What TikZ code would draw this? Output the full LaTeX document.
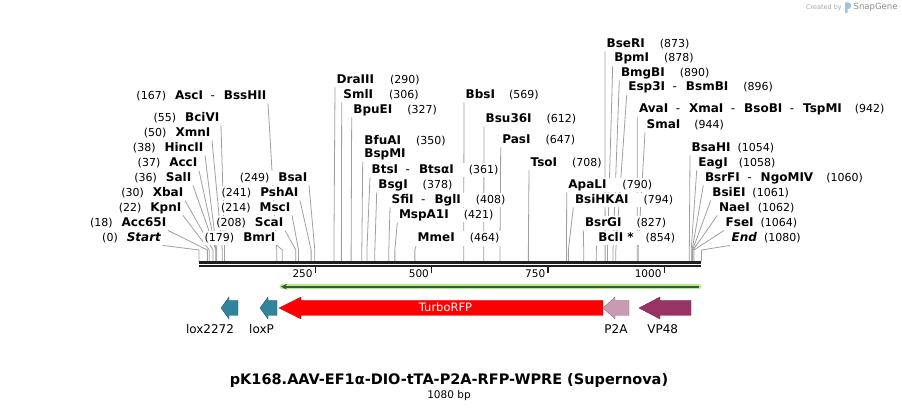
\documentclass[tikz,border=0pt]{standalone}
\usepackage{fontspec}
\setmainfont{DejaVu Sans}
\usetikzlibrary{arrows.meta,backgrounds}
\definecolor{cutgray}{RGB}{160,160,160}
\definecolor{loxteal}{RGB}{49,132,155}
\definecolor{rfpred}{RGB}{255,0,0}
\definecolor{ptwoa}{RGB}{201,154,179}
\definecolor{vpmag}{RGB}{153,51,102}
\definecolor{orfhalo}{RGB}{180,238,140}
\definecolor{orfline}{RGB}{52,92,52}
\definecolor{logoblue}{RGB}{160,196,224}
\newcommand{\orr}{\hspace{7.5pt}{\mdseries-}\hspace{9pt}}
\newcommand{\bpx}[1]{199+0.4652*#1}
\newcommand{\enzfont}{\fontsize{12}{13}\selectfont\bfseries}
\newcommand{\featarrow}[4]{%
  \filldraw[line width=0.4pt, fill=#4, draw=#4!75!black]
    (#1,308) -- (#2,297) -- (#2,300.5) -- (#3,300.5) -- (#3,315.5)
    -- (#2,315.5) -- (#2,319) -- cycle;}

\begin{document}
\begin{tikzpicture}[x=1pt, y=-1pt,
    cut/.style={inner sep=1.5pt, text height=9pt, text depth=2.5pt, fill=white,
      font=\fontsize{11}{13}\selectfont},
    cutline/.style={draw=cutgray, line width=0.8pt},
    featlabel/.style={font=\fontsize{12}{14}\selectfont, inner sep=1pt},
    ticklabel/.style={font=\fontsize{10.5}{12}\selectfont, anchor=east, inner sep=1pt}]
  \useasboundingbox (0,0) rectangle (902,411);
  \begin{pgfonlayer}{background}
    \fill[white] (0,0) rectangle (902,411);
  \end{pgfonlayer}

  % sites with the number in front
  \foreach \id/\bp/\x/\y/\enz in {
      Start/0/163/237/{\textit{Start}},
      Acc65I/18/168/222/Acc65I,
      KpnI/22/183/207/KpnI,
      XbaI/30/185/192/XbaI,
      SalI/36/193/177/SalI,
      AccI/37/199/162/AccI,
      HincII/38/205/147/HincII,
      XmnI/50/212/132/XmnI,
      BciVI/55/221/117/BciVI,
      AscI/167/268/95/{AscI\orr BssHII},
      BmrI/179/277/237/BmrI,
      ScaI/208/285/222/ScaI,
      MscI/214/292/207/MscI,
      PshAI/241/300/192/PshAI,
      BsaI/249/309/177/BsaI}{
    \node[cut, anchor=east] (\id) at (\x,{\y+1}) {(\bp)\hspace{9pt}{\enzfont\enz}};
    \begin{pgfonlayer}{background}
      \draw[cutline] (\id.south east) -- ({\bpx{\bp}},250) -- ({\bpx{\bp}},261.5);
    \end{pgfonlayer}
  }

  % sites with the number behind
  \foreach \id/\bp/\x/\y/\gap/\enz in {
      DraIII/290/335/79/16/DraIII,
      SmlI/306/341.7/94/16/SmlI,
      BpuEI/327/351.7/109/15/BpuEI,
      BtsI/361/370/169/15/{BtsI\orr BtsαI},
      BsgI/378/376.7/184/15/BsgI,
      SfiI/408/390/199/15/{SfiI\orr BglI},
      MspA1I/421/397.3/214/15/MspA1I,
      MmeI/464/416/237.5/15/MmeI,
      BbsI/569/464/94/14/BbsI,
      Bsu36I/612/484/118/15/Bsu36I,
      PasI/647/500.7/139/15/PasI,
      TsoI/708/529/162/15/TsoI,
      ApaLI/790/566.7/184/16/ApaLI,
      BsiHKAI/794/573.3/199/15/BsiHKAI,
      BsrGI/827/583.3/222/15/BsrGI,
      BclI/854/596.7/237/12/{BclI *},
      BseRI/873/605/43/15/BseRI,
      BpmI/878/612.7/57.5/15/BpmI,
      BmgBI/890/619.3/72/15/BmgBI,
      Esp3I/896/626.7/86.5/15/{Esp3I\orr BsmBI},
      AvaI/942/637.3/108.5/13/{AvaI\orr XmaI\orr BsoBI\orr TspMI},
      SmaI/944/645/124/14/SmaI,
      BsaHI/1054/690/147/7/BsaHI,
      EagI/1058/696.7/162/11/EagI,
      BsrFI/1060/703.3/177/13/{BsrFI\orr NgoMIV},
      BsiEI/1061/710.7/192/7/BsiEI,
      NaeI/1062/717.3/207/8/NaeI,
      FseI/1064/724/222/7/FseI,
      End/1080/730/237/7/{\textit{End}}}{
    \node[cut, anchor=west] (\id) at (\x,{\y+1}) {{\enzfont\enz}\hspace{\gap pt}(\bp)};
    \begin{pgfonlayer}{background}
      \draw[cutline] (\id.south west) -- ({\bpx{\bp}},250) -- ({\bpx{\bp}},261.5);
    \end{pgfonlayer}
  }
  \node[cut, anchor=west] (BfuAI) at (362.7,141) {{\enzfont BfuAI}\hspace{15pt}(350)};
  \node[cut, anchor=west] (BspMI) at (362.7,154.5) {\enzfont BspMI};
  \begin{pgfonlayer}{background}
    \draw[cutline] (BspMI.south west) -- ({\bpx{350}},250) -- ({\bpx{350}},261.5);
  \end{pgfonlayer}

  % sequence ruler
  \coordinate (seqL) at (199,262.8);
  \coordinate (seqR) at (701,262.8);
  \draw[line width=2.6pt, black!88] (seqL) -- (seqR);
  \draw[line width=2pt, black!88] ([yshift=-3.5pt]seqL) -- ([yshift=-3.5pt]seqR);
  \foreach \t in {250,500,750,1000}{
    \draw[line width=1.4pt, black!88] ({\bpx{\t}},267) -- ++(0,6.5) coordinate (tk\t);
    \node[ticklabel] (lb\t) at ([xshift=-1.5pt]tk\t) {\t};
  }

  % open reading frame
  \coordinate (orfR) at (699,286.7);
  \coordinate (orfL) at (281,286.7);
  \draw[orfhalo, line width=5pt, line cap=round] (orfR) -- ([xshift=1pt]orfL);
  \draw[orfline, line width=1.8pt, -{Stealth[length=6pt,width=6pt]}] (orfR) -- (orfL);

  % features
  \featarrow{221}{229}{238}{loxteal}
  \featarrow{260}{268}{277}{loxteal}
  \featarrow{279}{301}{603}{rfpred}
  \featarrow{603}{615}{629}{ptwoa}
  \featarrow{639}{660}{691}{vpmag}
  \node[font=\fontsize{11.5}{13}\selectfont, text=white] (TurboRFP) at (445.5,307.5) {TurboRFP};
  \node[featlabel] (lox2272) at (210,329.5) {lox2272};
  \node[featlabel] (loxP) at (261.5,329.5) {loxP};
  \node[featlabel] (P2A) at (616,329.5) {P2A};
  \node[featlabel] (VP48) at (662.7,329.5) {VP48};

  % title
  \node[font=\fontsize{14.5}{16}\selectfont\bfseries] (title) at (449,381)
    {pK168.AAV-EF1α-DIO-tTA-P2A-RFP-WPRE (Supernova)};
  \node[font=\fontsize{10.5}{12}\selectfont] (length) at (449,395.5) {1080 bp};

  % watermark
  \node[font=\fontsize{6.5}{8}\selectfont, text=black!35, anchor=east, inner sep=0pt] (createdby) at (842,7.5) {Created by};
  \fill[logoblue] (845,2.5) -- (848.5,2.5) .. controls (852,2.5) and (852,9) .. (848.5,9)
    -- (847.6,9) -- (847.6,13) -- (845,13) -- cycle;
  \node[font=\fontsize{8.5}{10}\selectfont, text=black!45, anchor=west, inner sep=0pt] (snapgene) at (853.5,7.5) {SnapGene};
\end{tikzpicture}
\end{document}
